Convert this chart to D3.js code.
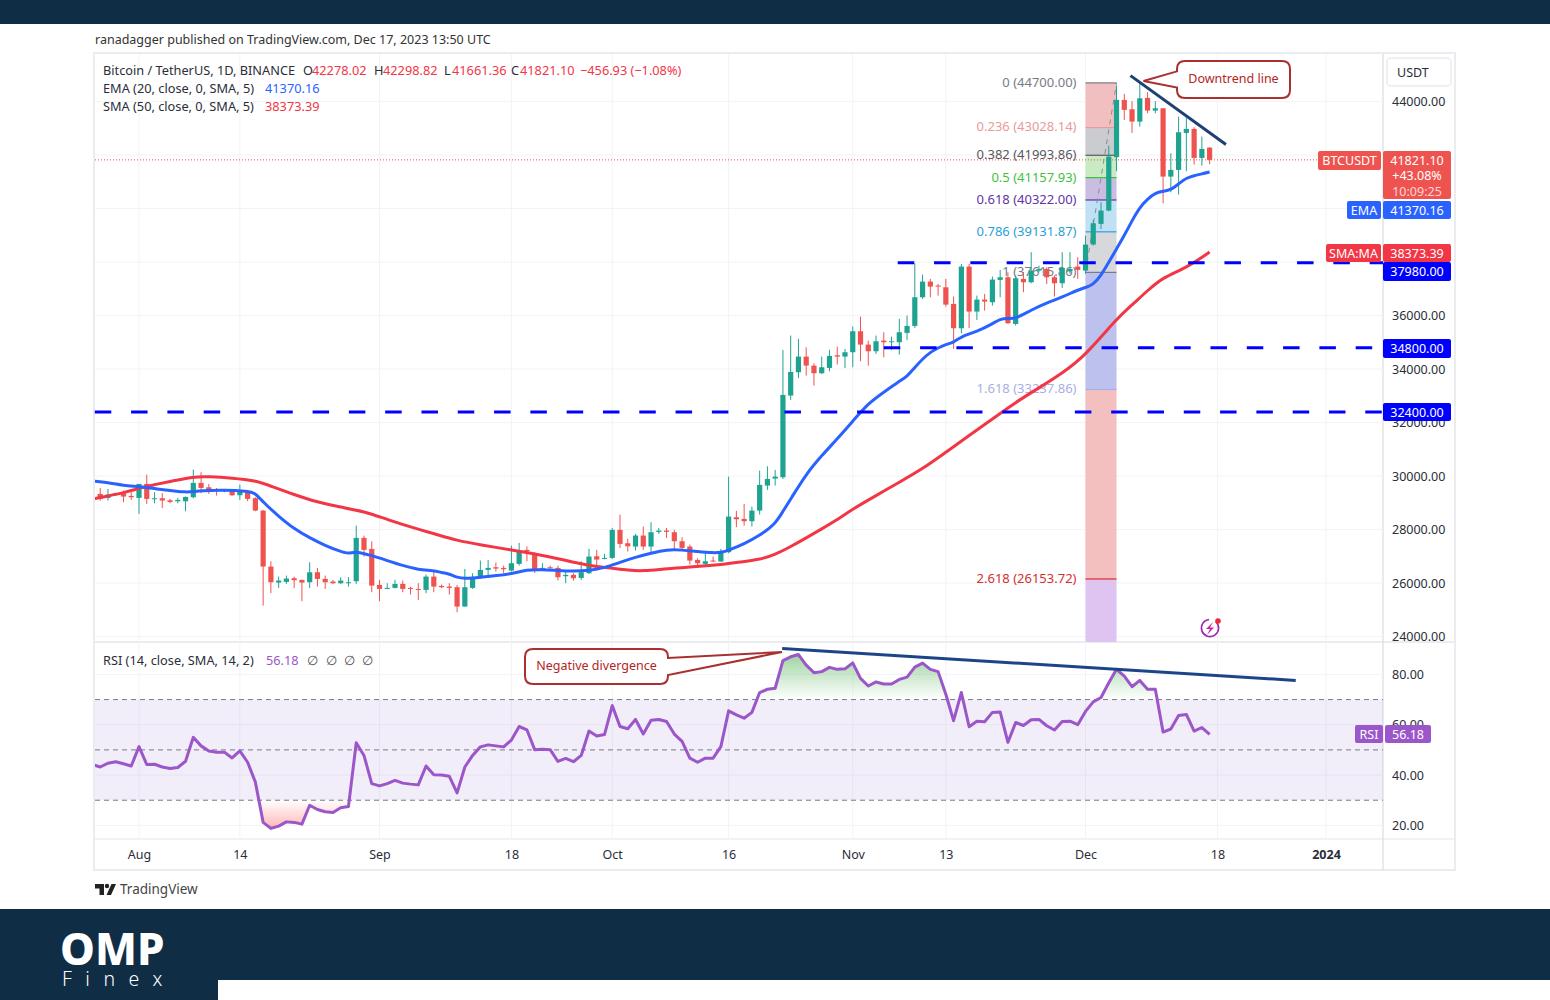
<!DOCTYPE html>
<html>
<head>
<meta charset="utf-8">
<script src="https://cdnjs.cloudflare.com/ajax/libs/d3/7.8.5/d3.min.js"></script>
<style>
  html, body { margin: 0; padding: 0; background: #fff; }
  svg { display: block; }
  text { font-family: "Noto Sans", sans-serif; }
</style>
</head>
<body>
<svg id="chart" width="1550" height="1000"></svg>
<script>
// candles, first one is Jul 26 (day -6), day 0 is Aug 1
const firstDay = -6;
const opens = [29210,29334,29185,29297,29359,29260,29185,29708,29135,29172,29097,29060,29060,29210,29745,29583,29484,29434,29434,29284,29434,29172,28711,26618,26020,26045,26182,26120,26032,26406,26157,26057,25995,26007,26070,27690,27278,25933,25783,25821,25970,25821,25783,25746,26244,25895,25870,25846,25123,25821,26194,26494,26593,26568,26469,26718,27241,27092,26531,26593,26568,26257,26307,26194,26369,27004,26905,26942,27989,27490,27366,27777,27366,27914,27964,27902,27565,27366,26867,26718,26842,26805,27154,28462,28400,28312,28711,29646,29907,29957,33010,33882,34468,34131,33845,34044,34518,34468,34630,35415,34916,34667,35066,35004,35004,35352,35614,36686,37271,37122,37059,36436,35527,37832,36150,36598,36499,37334,37433,35689,37371,37246,37682,37745,37433,37210,37658,37833,37683,38655,39428,39926,41920,44063,43714,43253,44138,43664,43751,41197,41446,42829,42979,41895,42278.02];
const highs = [29359,29558,29521,29384,29459,29396,29708,30057,29396,29359,29147,29185,29234,30244,30144,29708,29558,29521,29484,29683,29484,29210,28736,26817,26244,26282,26244,26132,26780,26568,26282,26120,26219,26219,28150,27777,27565,26120,25995,26120,26095,25870,25995,26319,26431,25945,25995,25933,26531,26369,26843,26867,26768,26655,27403,27503,27366,27154,26743,26655,26655,26469,26369,26817,27279,27241,27092,28064,28562,27652,27839,28113,28275,28064,28064,27989,27715,27440,26930,27154,26992,27278,29982,28700,28960,28861,30206,30368,30231,34717,35253,35128,34817,34218,34468,34717,34842,34754,35589,35963,35066,35253,35377,35215,35876,36000,37957,37533,37371,37184,37371,36710,37932,37932,36748,36810,37458,37707,37620,37496,37620,38368,37869,37807,37496,38369,38369,38182,38992,39577,40238,42356,44598,44287,44013,44686,44349,44013,43751,42069,43440,43390,43041,42692,42298.82];
const lows = [29110,29085,29085,29260,29023,29110,28587,28960,28985,28811,28985,28985,28686,29172,29359,29334,29272,29396,29260,29110,29060,28686,25160,25621,25821,25970,25821,25322,25821,25870,25783,25970,25970,25870,25970,26992,25659,25322,25771,25796,25659,25571,25372,25621,25659,25808,25571,24911,25123,25783,26157,26244,26431,26381,26431,26655,26817,26381,26494,26518,26095,25995,26095,26120,26344,26655,26892,26905,27316,27179,27216,27241,27154,27839,27690,27241,27216,26693,26655,26655,26792,26805,27117,28088,28150,28113,28562,29484,29646,29895,32848,33670,33758,33384,33820,33919,34169,34044,34069,34293,34131,34567,34443,34717,34542,35091,35539,36623,36686,36748,36337,34754,35340,35539,35838,36187,36374,36686,35689,35627,36873,37209,37620,37184,36710,37035,37559,37372,37559,38618,39241,39901,41396,43315,42829,43066,43564,43564,40200,40611,40524,41396,41646,41608,41661.36];
const closes = [29309,29147,29309,29359,29234,29210,29708,29147,29172,29085,29035,29110,29222,29745,29558,29434,29434,29484,29284,29459,29147,28711,26618,26032,26095,26169,26107,26020,26406,26157,26032,25995,26095,26032,27690,27241,25908,25783,25821,25970,25783,25783,25746,26244,25870,25846,25821,25123,25846,26194,26494,26568,26543,26518,26743,27216,27191,26494,26568,26556,26219,26307,26182,26406,26992,26880,26942,27989,27465,27378,27777,27366,27902,27964,27914,27565,27316,26842,26743,26817,26805,27154,28487,28387,28312,28711,29671,29895,29982,33035,33895,34468,34131,33845,34069,34493,34468,34630,35415,34916,34667,35041,35004,35041,35377,35614,36686,37271,37084,37084,36411,35527,37832,36150,36598,36524,37346,37433,35714,37396,37246,37682,37745,37433,37209,37783,37745,37708,38655,39453,39926,41945,44063,43689,43253,44125,43664,43751,41197,41446,42854,42979,41895,42231,41821.10];

// moving averages, read at the marked days
const emaDays = [-6,-4,-2,0,2,4,6,7,8,11,14,15,16,18,20,22,24,26,27,28,30,32,34,36,38,39,40,41,42,44,46,48,50,52,54,56,58,60,62,64,66,68,70,72,74,75,76,78,80,82,83,84,86,88,90,92,94,96,98,99,100,101,102,103,104,105,106,108,110,111,112,113,115,117,119,121,122,123,124,125,126,127,128,129,130,131,132,133,134,135,136,137,138];
const emaValues = [29820,29758,29646,29608,29534,29459,29397,29421,29459,29484,29434,29372,29023,28499,28026,27690,27403,27179,27091,27191,27029,26842,26655,26500,26469,26394,26344,26207,26170,26219,26282,26344,26506,26506,26469,26444,26469,26568,26780,26967,27116,27254,27241,27179,27129,27142,27230,27465,27780,28200,28686,29140,30082,30767,31390,32050,32723,33135,33546,33720,34069,34380,34630,34792,34929,34991,35228,35402,35689,35876,35901,35876,36212,36474,36686,36960,37048,37160,37496,37995,38493,38991,39552,40050,40362,40586,40649,40698,40923,41147,41234,41297,41370.16];
const smaDays = [-6,-4,-2,0,2,4,7,9,12,15,17,20,23,26,29,32,36,38,41,44,48,51,54,57,59,61,63,65,68,72,75,78,80,82,84,86,88,90,92,95,98,101,104,107,110,113,116,119,122,126,128,130,132,135,138];
const smaValues = [29147,29259,29372,29546,29683,29795,29982,29982,29932,29833,29621,29309,29023,28836,28686,28375,28010,27852,27590,27428,27241,27092,26917,26718,26618,26556,26481,26444,26543,26618,26693,26805,26880,27067,27366,27690,28026,28362,28773,29272,29770,30269,30892,31515,32138,32761,33297,33845,34505,35888,36400,36935,37434,37783,38373.39];

// rsi, one value per candle
const rsiValues = [44.2,43.2,44.7,45.3,44.5,43.6,51.3,44.2,44.3,43.2,42.6,43.0,45.5,55.0,51.6,49.6,49.1,49.1,46.8,49.6,45.1,37.2,21.2,18.8,19.7,21.4,21.2,20.5,28.0,26.3,25.4,25.1,27.0,27.5,52.8,47.8,36.6,35.7,36.6,37.9,36.8,36.4,36.1,43.6,40.1,40.0,39.5,32.9,43.2,47.8,51.2,52.0,51.6,51.2,53.9,59.3,58.0,50.1,50.3,50.1,45.4,46.6,45.3,47.8,57.5,55.5,56.1,67.6,59.3,58.4,62.1,56.3,61.8,62.1,61.3,56.3,53.4,46.7,45.1,46.7,46.7,51.3,65.5,63.9,62.6,64.9,72.8,74.1,74.5,85.5,87.0,87.9,83.7,80.7,81.1,82.8,82.0,82.2,84.6,78.4,75.4,77.0,76.2,76.2,78.0,78.9,82.9,84.5,82.0,81.1,72.1,61.6,72.8,59.2,61.4,61.2,64.9,65.1,53.0,60.9,59.7,62.0,62.1,59.6,57.9,61.3,61.4,60.0,65.3,69.1,70.8,76.7,82.0,79.3,75.1,77.6,74.1,74.1,57.1,58.3,63.7,64.1,57.5,58.9,56.18];

// axes
const tickDays = [0,13,31,48,61,76,92,104,122,139,153];
const tickLabels = ["Aug","14","Sep","18","Oct","16","Nov","13","Dec","18","2024"];
const priceTicks = [44000,42000,40000,38000,36000,34000,32000,30000,28000,26000,24000];
const priceLabelTicks = [44000,42000,36000,34000,32000,30000,28000,26000,24000]; // 40000 and 38000 sit under the tags
const rsiTicks = [80,60,40,20];

// fib retracement levels, anchors are day 122 to 126
const fibRatios = [0,0.236,0.382,0.5,0.618,0.786,1,1.618,2.618,3.618];
const fibPrices = [44700,43028.14,41993.86,41157.93,40322,39131.87,37615.86,33237.86,26153.72,19069.58];
const fibColors = ["#787b86","#e99a9a","#555860","#3fc13f","#5e35a8","#2a9fd6","#787b86","#a9aee6","#d32f2f","#b085e0"];
const fibFills = ["#f1bfbf","#cbccd0","#c8ebc4","#c9bde2","#c0e0f3","#d7d8dc","#bdc1ee","#f4bfbf","#dfc4f2"];

// support lines: price and first day
const supportPrices = [37980,34800,32400];
const supportStarts = [97.8,96,-5.7];

// drawn trendlines
const downtrendDays = [127.8,140.1];
const downtrendPrices = [44972,42393];
const rsiTrendDays = [82.9,149.1];
const rsiTrendValues = [90.3,77.6];

const upColor = "#1fa391", downColor = "#ef5350", emaColor = "#2962ff", smaColor = "#f23645";
const rsiColor = "#9b56c9", levelBlue = "#0000ff", noteColor = "#a8302f", textColor = "#2a2e39";

const svg = d3.select("#chart");
const days = opens.map((d, i) => firstDay + i);

// layout of the widget
const paneL = 95, paneR = 1383, mainT = 54, mainB = 642, rsiT = 643, rsiB = 839, frameB = 870, frameR = 1455;

const x = d3.scaleLinear().domain([0, 153]).range([139, 1326]);
const y = d3.scaleLinear().domain([24000, 44000]).range([636.6, 101.6]);
const yr = d3.scaleLinear().domain([20, 80]).range([825.4, 674.4]);

// page bands
svg.append("rect").attr("width", 1550).attr("height", 24).attr("fill", "#0f2d45");
svg.append("rect").attr("y", 909).attr("width", 1550).attr("height", 91).attr("fill", "#0f2d45");
svg.append("rect").attr("x", 218).attr("y", 980).attr("width", 1332).attr("height", 20).attr("fill", "#fff");

svg.append("text").attr("x", 95).attr("y", 44).attr("font-size", 12.5).attr("fill", "#333")
  .text("ranadagger published on TradingView.com, Dec 17, 2023 13:50 UTC");

// frame
svg.append("rect").attr("x", paneL - 1).attr("y", mainT - 1).attr("width", frameR - paneL + 1).attr("height", frameB - mainT + 1)
  .attr("fill", "none").attr("stroke", "#eaecf0").attr("stroke-width", 2);
svg.append("line").attr("x1", paneL).attr("x2", frameR).attr("y1", rsiB).attr("y2", rsiB).attr("stroke", "#e3e5ea");
svg.append("line").attr("x1", paneL).attr("x2", frameR).attr("y1", mainB).attr("y2", mainB).attr("stroke", "#eaecf0").attr("stroke-width", 2);
svg.append("line").attr("x1", paneR).attr("x2", paneR).attr("y1", mainT).attr("y2", frameB).attr("stroke", "#d3d6dc");

const defs = svg.append("defs");
defs.append("clipPath").attr("id", "mainClip").append("rect").attr("x", paneL).attr("y", mainT).attr("width", paneR - paneL).attr("height", mainB - mainT);
defs.append("clipPath").attr("id", "rsiClip").append("rect").attr("x", paneL).attr("y", rsiT).attr("width", paneR - paneL).attr("height", rsiB - rsiT);
defs.append("clipPath").attr("id", "overClip").append("rect").attr("x", paneL).attr("y", rsiT).attr("width", paneR - paneL).attr("height", yr(70) - rsiT);
defs.append("clipPath").attr("id", "underClip").append("rect").attr("x", paneL).attr("y", yr(30)).attr("width", paneR - paneL).attr("height", rsiB - yr(30));

const overGrad = defs.append("linearGradient").attr("id", "overGrad").attr("gradientUnits", "userSpaceOnUse")
  .attr("x1", 0).attr("x2", 0).attr("y1", yr(90)).attr("y2", yr(70));
overGrad.append("stop").attr("offset", 0).attr("stop-color", "#4caf50").attr("stop-opacity", 0.6);
overGrad.append("stop").attr("offset", 1).attr("stop-color", "#4caf50").attr("stop-opacity", 0);
const underGrad = defs.append("linearGradient").attr("id", "underGrad").attr("gradientUnits", "userSpaceOnUse")
  .attr("x1", 0).attr("x2", 0).attr("y1", yr(30)).attr("y2", yr(18));
underGrad.append("stop").attr("offset", 0).attr("stop-color", "#ff5252").attr("stop-opacity", 0);
underGrad.append("stop").attr("offset", 1).attr("stop-color", "#ff5252").attr("stop-opacity", 0.45);

// grid
const gridColor = "#f2f3f6";
const grid = svg.append("g").attr("stroke", gridColor);
grid.selectAll(".v").data(tickDays).join("line").attr("x1", d => x(d)).attr("x2", d => x(d)).attr("y1", mainT).attr("y2", rsiB);
grid.selectAll(".p").data(priceTicks).join("line").attr("x1", paneL).attr("x2", paneR).attr("y1", d => y(d)).attr("y2", d => y(d));
grid.selectAll(".r").data(rsiTicks).join("line").attr("x1", paneL).attr("x2", paneR).attr("y1", d => yr(d)).attr("y2", d => yr(d));

// price axis and time axis
const styleAxis = g => {
  g.select(".domain").remove();
  g.selectAll(".tick line").remove();
  g.selectAll("text").attr("fill", textColor).attr("font-size", 12.5);
};
svg.append("g").attr("transform", `translate(${paneR + 9},0)`)
  .call(d3.axisRight(y).tickValues(priceLabelTicks).tickFormat(d3.format(".2f")).tickPadding(0).tickSize(0)).call(styleAxis);
svg.append("g").attr("transform", `translate(${paneR + 9},0)`)
  .call(d3.axisRight(yr).tickValues(rsiTicks).tickFormat(d3.format(".2f")).tickPadding(0).tickSize(0)).call(styleAxis);
svg.append("g").attr("transform", `translate(0,${rsiB + 8})`)
  .call(d3.axisBottom(x).tickValues(tickDays).tickFormat((d, i) => tickLabels[i]).tickPadding(3).tickSize(0)).call(styleAxis)
  .selectAll("text").filter(d => d === 153).attr("font-weight", 700);

// main pane
const main = svg.append("g").attr("clip-path", "url(#mainClip)");

// fib blocks
const fibX0 = x(122), fibX1 = x(126);
main.selectAll(".fibBlock").data(fibFills).join("rect")
  .attr("x", fibX0).attr("width", fibX1 - fibX0)
  .attr("y", (d, i) => y(fibPrices[i])).attr("height", (d, i) => y(fibPrices[i + 1]) - y(fibPrices[i]))
  .attr("fill", d => d);
main.selectAll(".fibLine").data(fibPrices.slice(0, 9)).join("line")
  .attr("x1", fibX0).attr("x2", fibX1).attr("y1", d => y(d)).attr("y2", d => y(d))
  .attr("stroke", (d, i) => fibColors[i]).attr("stroke-width", 1.2);
main.selectAll(".fibLabel").data(fibPrices.slice(0, 9)).join("text")
  .attr("x", fibX0 - 9).attr("y", d => y(d)).attr("dy", "0.3em").attr("text-anchor", "end")
  .attr("font-size", 13).attr("fill", (d, i) => fibColors[i])
  .text((d, i) => `${fibRatios[i]} (${d.toFixed(2)})`);
main.append("line").attr("x1", fibX0).attr("x2", fibX1).attr("y1", y(fibPrices[6])).attr("y2", y(fibPrices[0]))
  .attr("stroke", "#8a8d96").attr("stroke-dasharray", "5,5");

// last price
main.append("line").attr("x1", paneL).attr("x2", 1318).attr("y1", y(closes[closes.length - 1])).attr("y2", y(closes[closes.length - 1]))
  .attr("stroke", downColor).attr("stroke-dasharray", "1,2");

// candles
const candle = main.selectAll(".candle").data(days).join("g")
  .attr("fill", (d, i) => closes[i] >= opens[i] ? upColor : downColor)
  .attr("stroke", (d, i) => closes[i] >= opens[i] ? upColor : downColor);
candle.append("line").attr("x1", d => x(d)).attr("x2", d => x(d))
  .attr("y1", (d, i) => y(highs[i])).attr("y2", (d, i) => y(lows[i])).attr("stroke-width", 1);
candle.append("rect").attr("x", d => x(d) - 2.6).attr("width", 5.2)
  .attr("y", (d, i) => y(Math.max(opens[i], closes[i])))
  .attr("height", (d, i) => Math.max(1, Math.abs(y(opens[i]) - y(closes[i]))))
  .attr("stroke", "none");

// moving averages
const maLine = (xs, ys) => d3.line().x((d, i) => x(xs[i])).y((d, i) => y(ys[i])).curve(d3.curveBasis)(ys);
main.append("path").attr("d", maLine(smaDays, smaValues)).attr("fill", "none").attr("stroke", smaColor).attr("stroke-width", 3);
main.append("path").attr("d", maLine(emaDays, emaValues)).attr("fill", "none").attr("stroke", emaColor).attr("stroke-width", 3);

// support lines
supportPrices.forEach((p, i) => {
  svg.append("line").attr("x1", x(supportStarts[i])).attr("x2", paneR).attr("y1", y(p)).attr("y2", y(p))
    .attr("stroke", levelBlue).attr("stroke-width", 3).attr("stroke-dasharray", "16.5,19.8");
});

// downtrend line and its note
svg.append("line").attr("x1", x(downtrendDays[0])).attr("y1", y(downtrendPrices[0]))
  .attr("x2", x(downtrendDays[1])).attr("y2", y(downtrendPrices[1]))
  .attr("stroke", "#1c3f74").attr("stroke-width", 3);

function note(x0, y0, w, h, tipX, tipY, label, fontSize) {
  const r = 8;
  const py1 = y0 + h * 0.28, py2 = y0 + h * 0.72;
  const p = d3.path();
  p.moveTo(x0 + r, y0);
  p.lineTo(x0 + w - r, y0); p.quadraticCurveTo(x0 + w, y0, x0 + w, y0 + r);
  if (tipX > x0 + w) { p.lineTo(x0 + w, y0 + 9); p.lineTo(tipX, tipY); p.lineTo(x0 + w, y0 + 26); }
  p.lineTo(x0 + w, y0 + h - r); p.quadraticCurveTo(x0 + w, y0 + h, x0 + w - r, y0 + h);
  p.lineTo(x0 + r, y0 + h); p.quadraticCurveTo(x0, y0 + h, x0, y0 + h - r);
  if (tipX < x0) { p.lineTo(x0, py2); p.lineTo(tipX, tipY); p.lineTo(x0, py1); }
  p.lineTo(x0, y0 + r); p.quadraticCurveTo(x0, y0, x0 + r, y0);
  p.closePath();
  svg.append("path").attr("d", p.toString()).attr("fill", "#fff").attr("stroke", noteColor).attr("stroke-width", 2);
  svg.append("text").attr("x", x0 + w / 2).attr("y", y0 + h / 2 - 1).attr("dy", "0.35em").attr("text-anchor", "middle")
    .attr("font-size", fontSize).attr("fill", "#b3261e").text(label);
}

// rsi pane
const rsi = svg.append("g").attr("clip-path", "url(#rsiClip)");
rsi.append("rect").attr("x", paneL).attr("width", paneR - paneL).attr("y", yr(70)).attr("height", yr(30) - yr(70)).attr("fill", "#7e57c2").attr("opacity", 0.1);
const rsiArea = level => d3.area().x((d, i) => x(days[i])).y0(yr(level)).y1(d => yr(d));
rsi.append("path").attr("d", rsiArea(70)(rsiValues)).attr("fill", "url(#overGrad)").attr("clip-path", "url(#overClip)");
rsi.append("path").attr("d", rsiArea(30)(rsiValues)).attr("fill", "url(#underGrad)").attr("clip-path", "url(#underClip)");
[70, 50, 30].forEach(v => {
  rsi.append("line").attr("x1", paneL).attr("x2", paneR).attr("y1", yr(v)).attr("y2", yr(v))
    .attr("stroke", "#787b86").attr("stroke-dasharray", "5,4");
});
rsi.append("path").attr("d", d3.line().x((d, i) => x(days[i])).y(d => yr(d))(rsiValues))
  .attr("fill", "none").attr("stroke", rsiColor).attr("stroke-width", 3).attr("stroke-linejoin", "round");
svg.append("line").attr("x1", x(rsiTrendDays[0])).attr("y1", yr(rsiTrendValues[0]))
  .attr("x2", x(rsiTrendDays[1])).attr("y2", yr(rsiTrendValues[1]))
  .attr("stroke", "#1c4587").attr("stroke-width", 3);

note(1177, 61, 113, 37, x(downtrendDays[0]) + 13, 81, "Downtrend line", 12.5);
note(525, 649, 143, 35, 782, 652, "Negative divergence", 12.5);

// legends
function legend(px, py, label, color) {
  svg.append("text").attr("x", px).attr("y", py + 0.7).attr("dy", "0.35em").attr("font-size", 12.75)
    .attr("fill", color || textColor).text(label);
}
legend(103, 70, "Bitcoin / TetherUS, 1D, BINANCE");
legend(303, 70, "O"); legend(312, 70, "42278.02", smaColor);
legend(374, 70, "H"); legend(383, 70, "42298.82", smaColor);
legend(444, 70, "L"); legend(452, 70, "41661.36", smaColor);
legend(511, 70, "C"); legend(520, 70, "41821.10", smaColor);
legend(580, 70, "\u2212456.93 (\u22121.08%)", smaColor);
legend(103, 88, "EMA (20, close, 0, SMA, 5)"); legend(265, 88, "41370.16", emaColor);
legend(103, 106, "SMA (50, close, 0, SMA, 5)"); legend(265, 106, "38373.39", smaColor);
legend(103, 660, "RSI (14, close, SMA, 14, 2)"); legend(266, 660, "56.18", rsiColor);
[307, 326, 344, 362].forEach(px => legend(px, 660, "\u2205", "#555"));

// right side tags
function tag(x0, x1, y0, y1, color, lines) {
  svg.append("rect").attr("x", x0).attr("y", y0).attr("width", x1 - x0).attr("height", y1 - y0).attr("rx", 2).attr("fill", color);
  lines.forEach((t, i) => {
    svg.append("text").attr("x", (x0 + x1) / 2).attr("y", y0 + 9.5 + i * 15.5).attr("dy", "0.35em").attr("text-anchor", "middle")
      .attr("font-size", 12.5).attr("fill", i === 2 ? "#fbd5d4" : "#fff").text(t);
  });
}
const lastY = Math.round(y(closes[closes.length - 1]));
tag(1318, 1381, lastY - 9, lastY + 10, "#ef5350", ["BTCUSDT"]);
tag(1383, 1451, lastY - 9, lastY + 39, "#ef5350", ["41821.10", "+43.08%", "10:09:25"]);
tag(1347, 1381, 201, 219, emaColor, ["EMA"]);
tag(1383, 1451, 201, 219, emaColor, ["41370.16"]);
tag(1326, 1381, 244, 262, smaColor, ["SMA:MA"]);
tag(1383, 1451, 244, 262, smaColor, ["38373.39"]);
tag(1383, 1451, 262, 281, levelBlue, ["37980.00"]);
tag(1383, 1451, 339, 358, levelBlue, ["34800.00"]);
tag(1383, 1451, 403, 421, levelBlue, ["32400.00"]);
tag(1355, 1383, 725, 743, rsiColor, ["RSI"]);
tag(1385, 1431, 725, 743, rsiColor, ["56.18"]);

// USDT button
svg.append("rect").attr("x", 1387).attr("y", 58).attr("width", 64).attr("height", 28).attr("rx", 4)
  .attr("fill", "#fff").attr("stroke", "#e9ebf0").attr("stroke-width", 1.5);
svg.append("text").attr("x", 1397).attr("y", 73).attr("dy", "0.35em").attr("font-size", 12.5).attr("fill", textColor).text("USDT");

// lightning marker
const ring = d3.arc().innerRadius(7.8).outerRadius(9.4).startAngle(0.75).endAngle(Math.PI * 2 - 0.1);
svg.append("path").attr("transform", "translate(1210,628)").attr("d", ring()).attr("fill", "#9c27b0");
svg.append("path").attr("d", "M1213 622 L1206 629 L1210 629 L1207 635 L1214 627.5 L1210 627.5 Z").attr("fill", "#c2279c");
svg.append("circle").attr("cx", 1218).attr("cy", 621).attr("r", 2.8).attr("fill", "#ef2b3a");

// tradingview mark
svg.append("path").attr("d", "M95 884 H104 V895 H99.5 V888.5 H95 Z M111.5 884 H116 L111 895 H106.5 Z").attr("fill", "#222");
svg.append("circle").attr("cx", 107).attr("cy", 886).attr("r", 2.2).attr("fill", "#222");
svg.append("text").attr("x", 120).attr("y", 889).attr("dy", "0.35em").attr("font-size", 13.5).attr("fill", "#444").text("TradingView");

// OMP logo
svg.append("text").attr("x", 60).attr("y", 965).attr("font-family", "Inter").attr("font-weight", 800).attr("font-size", 44).attr("fill", "#fff").text("OMP");
svg.append("text").attr("x", 62).attr("y", 986).attr("font-family", "Inter").attr("font-weight", 300).attr("font-size", 19.5).attr("letter-spacing", 13.5).attr("fill", "#fff").text("Finex");
</script>
</body>
</html>
